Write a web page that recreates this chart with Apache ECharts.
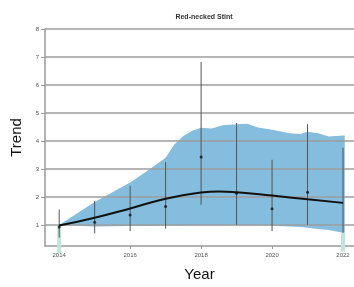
<!DOCTYPE html>
<html>
<head>
<meta charset="utf-8">
<script src="https://cdn.jsdelivr.net/npm/echarts@6/dist/echarts.min.js"></script>
<style>
html, body { margin: 0; padding: 0; background: #fff; }
#chart { width: 354px; height: 287px; }
</style>
</head>
<body>
<div id="chart"></div>
<script>
var years = [2014, 2015, 2016, 2017, 2018, 2019, 2020, 2021, 2022];
var estimate = [0.93, 1.1, 1.36, 1.66, 3.43, 2.13, 1.58, 2.17, null];
var barLow = [0.55, 0.7, 0.78, 0.87, 1.72, 1.01, 0.78, 1.01, 0.72];
var barHigh = [1.55, 1.85, 2.4, 3.25, 6.82, 4.64, 3.33, 4.6, 3.76];

var tealYears = [2014, 2022];
var tealLow = [0.0, 0.05];
var tealHigh = [0.95, 0.72];

var trendX = [2014, 2015, 2016, 2017, 2018, 2018.5, 2019, 2020, 2021, 2022];
var trendY = [0.98, 1.26, 1.59, 1.94, 2.16, 2.2, 2.17, 2.05, 1.92, 1.79];

var bandX = [2014, 2015, 2016, 2016.5, 2017, 2017.25, 2017.5, 2017.75, 2018, 2018.3, 2018.6, 2019, 2019.3, 2019.6, 2020, 2020.5, 2020.8, 2021, 2021.3, 2021.6, 2022, 2022.05];
var bandUpper = [1.0, 1.82, 2.52, 2.95, 3.4, 3.88, 4.18, 4.37, 4.47, 4.45, 4.56, 4.6, 4.62, 4.48, 4.4, 4.28, 4.25, 4.33, 4.28, 4.16, 4.2, 4.2];
var bandLower = [1.0, 0.95, 0.96, 0.96, 0.97, 0.97, 0.97, 0.98, 0.98, 0.98, 0.98, 0.98, 0.98, 0.98, 0.97, 0.95, 0.93, 0.9, 0.86, 0.82, 0.72, 0.72];

var yTicks = [1, 2, 3, 4, 5, 6, 7, 8];
var xTicks = [2014, 2016, 2018, 2020, 2022];

var myChart = echarts.init(document.getElementById('chart'));

function vbar(color, width) {
	return function (params, api) {
		var top = api.coord([api.value(0), api.value(2)]);
		var bot = api.coord([api.value(0), api.value(1)]);
		return {
			type: 'line',
			shape: { x1: top[0], y1: top[1], x2: bot[0], y2: bot[1] },
			style: { stroke: color, lineWidth: width }
		};
	};
}

// whole ribbon drawn once, from the first item
function band(params, api) {
	if (params.dataIndex !== 0) return;
	var pts = [];
	for (var i = 0; i < bandX.length; i++) pts.push(api.coord([bandX[i], bandUpper[i]]));
	for (var j = bandX.length - 1; j >= 0; j--) pts.push(api.coord([bandX[j], bandLower[j]]));
	return {
		type: 'polygon',
		shape: { points: pts },
		style: { fill: '#84bddd' }
	};
}

myChart.setOption({
	animation: false,
	textStyle: { fontFamily: 'Liberation Sans' },
	title: {
		text: 'Red-necked Stint',
		left: 199,
		textAlign: 'center',
		top: 9,
		textStyle: { fontSize: 7, fontWeight: 'bold', color: '#333' }
	},
	grid: { left: 45, right: 0, top: 29, bottom: 39 },
	xAxis: {
		type: 'value',
		min: 2013.6,
		max: 2022.31,
		z: 2,
		name: 'Year',
		nameLocation: 'middle',
		nameGap: 21,
		nameTextStyle: { fontSize: 15, color: '#111', fontFamily: 'Liberation Sans' },
		axisLine: { show: true, lineStyle: { color: '#999', width: 1.5 } },
		axisTick: { show: true, length: 3, customValues: xTicks, lineStyle: { color: '#999' } },
		axisLabel: {
			customValues: xTicks, fontSize: 6, color: '#555', margin: 6,
			formatter: function (v) { return String(v); }
		},
		splitLine: { show: false }
	},
	yAxis: {
		type: 'value',
		min: 0.25,
		max: 8,
		z: 2,
		name: 'Trend',
		nameLocation: 'middle',
		nameGap: 20,
		nameRotate: 90,
		nameTextStyle: { fontSize: 15, color: '#111', fontFamily: 'Liberation Sans' },
		axisLine: { show: true, lineStyle: { color: '#999', width: 1.5 } },
		axisTick: { show: true, length: 4, customValues: yTicks, lineStyle: { color: '#999' } },
		axisLabel: { customValues: yTicks, fontSize: 6, color: '#555', margin: 6 },
		splitLine: { show: true, lineStyle: { color: '#9e9e9e', width: 1.5 } }
	},
	series: [
		{
			type: 'custom',
			renderItem: band,
			data: bandX.map(function (x, i) { return [x, bandLower[i], bandUpper[i]]; }),
			z: 1
		},
		{
			type: 'custom',
			clip: false,
			renderItem: vbar('#bfe6dc', 4),
			data: tealYears.map(function (x, i) { return [x, tealLow[i], tealHigh[i]]; }),
			z: 3
		},
		{
			type: 'custom',
			renderItem: vbar('#555', 1),
			data: years.map(function (x, i) { return [x, barLow[i], barHigh[i]]; }),
			z: 4
		},
		{
			type: 'line',
			data: trendX.map(function (x, i) { return [x, trendY[i]]; }),
			smooth: true,
			symbol: 'none',
			lineStyle: { color: '#111', width: 2 },
			z: 5
		},
		{
			type: 'scatter',
			data: years.map(function (x, i) { return [x, estimate[i]]; }).filter(function (d) { return d[1] !== null; }),
			symbolSize: 3,
			itemStyle: { color: '#111' },
			z: 6
		}
	]
});
</script>
</body>
</html>
